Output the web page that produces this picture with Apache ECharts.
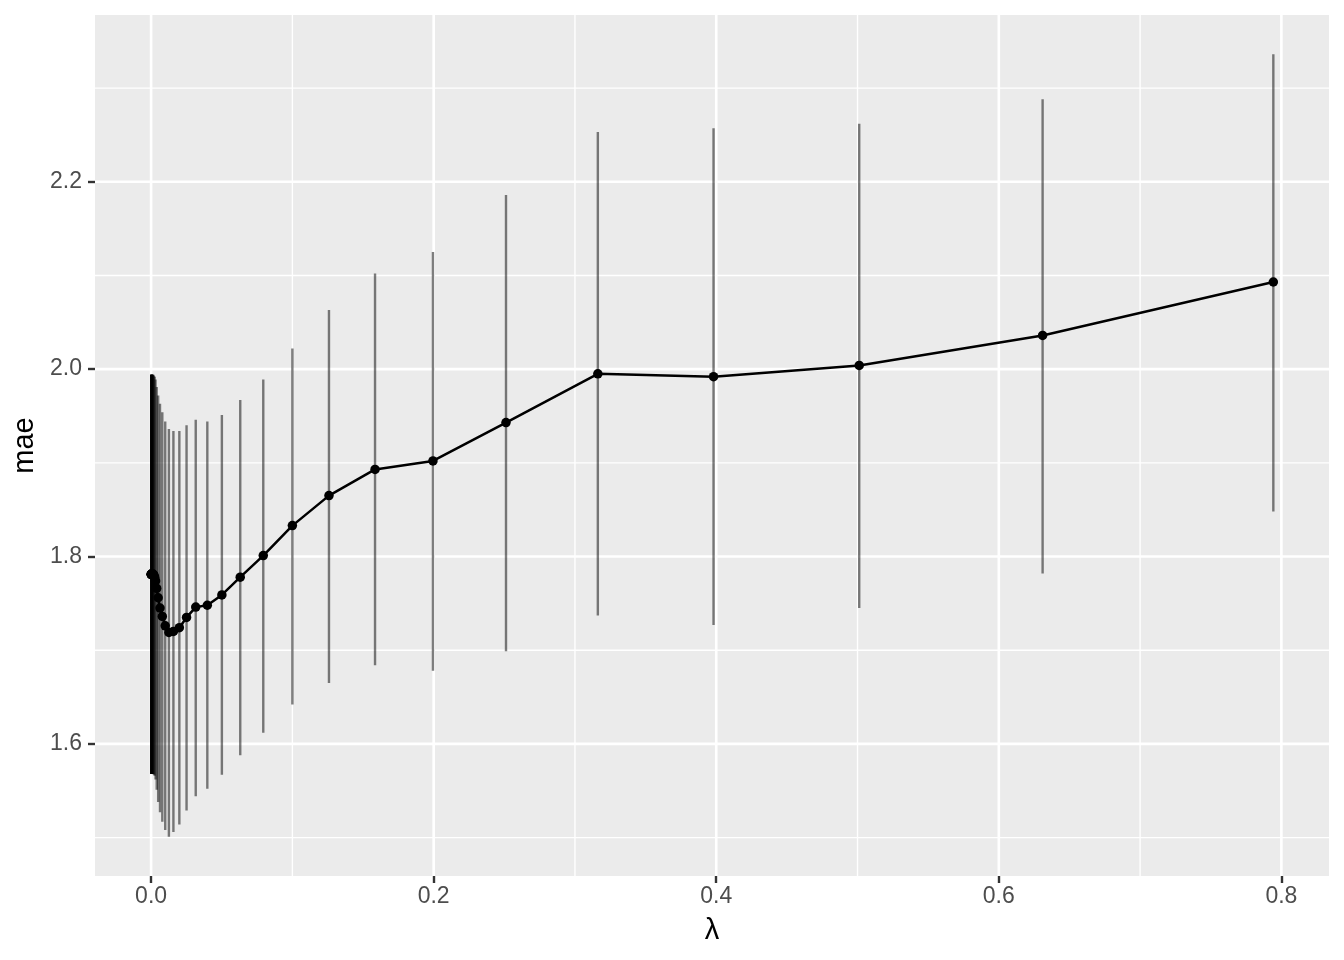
<!DOCTYPE html>
<html>
<head>
<meta charset="utf-8">
<style>
  html, body { margin: 0; padding: 0; background: #ffffff; }
  #chart { width: 1344px; height: 960px; }
</style>
<script src="https://cdn.jsdelivr.net/npm/echarts@6/dist/echarts.min.js"></script>
</head>
<body>
<div id="chart"></div>
<script>
// ---- data ----
const lambdaValues = [0.7943, 0.6310, 0.5012, 0.3981, 0.3162, 0.2512, 0.1995, 0.1585, 0.1259, 0.1000,
  0.0794, 0.0631, 0.0501, 0.0398, 0.0316, 0.0251, 0.0200, 0.0158, 0.0126, 0.0100,
  0.00794, 0.00631, 0.00501, 0.00398, 0.00316, 0.00251, 0.00200, 0.00158, 0.00126, 0.00100,
  0.00079, 0.00063, 0.00050, 0.00040, 0.00032, 0.00025, 0.00020, 0.00016, 0.00013, 0.00010];
const maeValues = [2.093, 2.036, 2.004, 1.992, 1.995, 1.943, 1.902, 1.893, 1.865, 1.833,
  1.801, 1.778, 1.759, 1.748, 1.746, 1.735, 1.724, 1.720, 1.719, 1.726,
  1.736, 1.745, 1.756, 1.766, 1.774, 1.778, 1.780, 1.781, 1.781, 1.781,
  1.781, 1.781, 1.781, 1.781, 1.781, 1.781, 1.781, 1.781, 1.781, 1.781];
const upperValues = [2.336, 2.288, 2.262, 2.257, 2.253, 2.186, 2.125, 2.102, 2.063, 2.022,
  1.989, 1.967, 1.951, 1.944, 1.946, 1.940, 1.934, 1.934, 1.936, 1.944,
  1.954, 1.963, 1.972, 1.981, 1.989, 1.992, 1.993, 1.994, 1.994, 1.994,
  1.994, 1.994, 1.994, 1.994, 1.994, 1.994, 1.994, 1.994, 1.994, 1.994];
const lowerValues = [1.848, 1.782, 1.745, 1.727, 1.737, 1.699, 1.678, 1.684, 1.665, 1.642,
  1.612, 1.588, 1.567, 1.552, 1.544, 1.529, 1.514, 1.506, 1.501, 1.508,
  1.517, 1.527, 1.538, 1.551, 1.562, 1.566, 1.567, 1.568, 1.568, 1.568,
  1.568, 1.568, 1.568, 1.568, 1.568, 1.568, 1.568, 1.568, 1.568, 1.568];

const xTicks = [0, 0.2, 0.4, 0.6, 0.8];
const xMinorTicks = [0.1, 0.3, 0.5, 0.7];
const yTicks = [1.6, 1.8, 2.0, 2.2];
const yMinorTicks = [1.5, 1.7, 1.9, 2.1, 2.3];

const xMin = -0.0397, xMax = 0.8337;
const yMin = 1.459, yMax = 2.378;

// ---- build ----
const errData = lambdaValues.map((l, i) => [l, lowerValues[i], upperValues[i]]);
const lineData = lambdaValues.map((l, i) => [l, maeValues[i]]);

function vLine(width) {
  return function (params, api) {
    const cs = params.coordSys;
    const p = api.coord([api.value(0), (yMin + yMax) / 2]);
    return { type: 'line', shape: { x1: p[0], y1: cs.y, x2: p[0], y2: cs.y + cs.height },
      style: { stroke: '#ffffff', lineWidth: width } };
  };
}
function hLine(width) {
  return function (params, api) {
    const cs = params.coordSys;
    const p = api.coord([(xMin + xMax) / 2, api.value(1)]);
    return { type: 'line', shape: { x1: cs.x, y1: p[1], x2: cs.x + cs.width, y2: p[1] },
      style: { stroke: '#ffffff', lineWidth: width } };
  };
}

const font = '"Liberation Sans", Arial, Helvetica, sans-serif';
const chart = echarts.init(document.getElementById('chart'), null, { renderer: 'canvas' });
chart.setOption({
  animation: false,
  backgroundColor: '#ffffff',
  grid: { left: 95, right: 15, top: 15, bottom: 84, show: true, backgroundColor: '#EBEBEB', borderWidth: 0 },
  xAxis: {
    type: 'value', min: xMin, max: xMax,
    name: 'λ', nameLocation: 'middle', nameGap: 40,
    nameTextStyle: { color: '#000000', fontSize: 29, fontFamily: font },
    axisLine: { show: false, onZero: false },
    axisTick: { show: true, inside: false, length: 7, customValues: xTicks, lineStyle: { color: '#333333', width: 2.4 } },
    axisLabel: { customValues: xTicks, margin: 9, color: '#4D4D4D', fontSize: 23, fontFamily: font,
      formatter: v => Number(v).toFixed(1) },
    splitLine: { show: false }
  },
  yAxis: {
    type: 'value', min: yMin, max: yMax,
    name: 'mae', nameLocation: 'middle', nameGap: 50, nameRotate: 90,
    nameTextStyle: { color: '#000000', fontSize: 29, fontFamily: font },
    axisLine: { show: false, onZero: false },
    axisTick: { show: true, inside: false, length: 7, customValues: yTicks, lineStyle: { color: '#333333', width: 2.4 } },
    axisLabel: { customValues: yTicks, margin: 13, color: '#4D4D4D', fontSize: 23, fontFamily: font,
      formatter: v => Number(v).toFixed(1) },
    splitLine: { show: false }
  },
  series: [
    { type: 'custom', z: 1, silent: true, renderItem: vLine(1.4), data: xMinorTicks.map(v => [v, 2]) },
    { type: 'custom', z: 1, silent: true, renderItem: hLine(1.4), data: yMinorTicks.map(v => [0.4, v]) },
    { type: 'custom', z: 1, silent: true, renderItem: vLine(2.6), data: xTicks.map(v => [v, 2]) },
    { type: 'custom', z: 1, silent: true, renderItem: hLine(2.6), data: yTicks.map(v => [0.4, v]) },
    {
      type: 'custom', z: 2, silent: true,
      encode: { x: 0, y: [1, 2] },
      renderItem: function (params, api) {
        const x = api.value(0);
        const p1 = api.coord([x, api.value(1)]);
        const p2 = api.coord([x, api.value(2)]);
        return { type: 'line', shape: { x1: p1[0], y1: p1[1], x2: p2[0], y2: p2[1] },
          style: { stroke: 'rgba(0,0,0,0.5)', lineWidth: 2.4, lineCap: 'butt' } };
      },
      data: errData
    },
    {
      type: 'line', z: 3, silent: true,
      data: lineData,
      symbol: 'circle', symbolSize: 9.5, showAllSymbol: true,
      itemStyle: { color: '#000000' },
      lineStyle: { color: '#000000', width: 2.5 }
    }
  ]
});
</script>
</body>
</html>
